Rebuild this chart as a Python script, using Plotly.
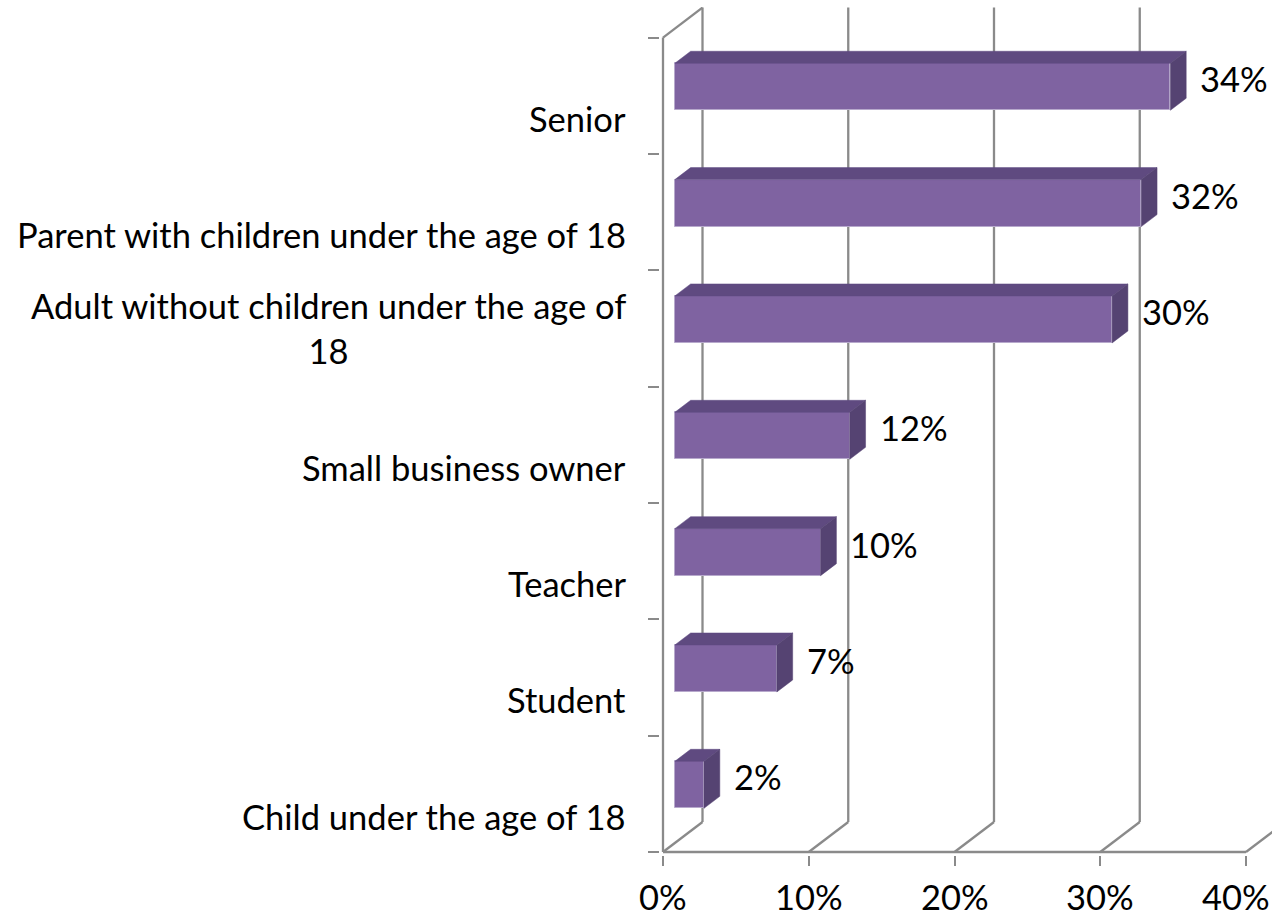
import plotly.graph_objects as go

# Respondent groups, bottom to top, and the share of each (percent)
categories = [
    "Child under the age of 18",
    "Student",
    "Teacher",
    "Small business owner",
    "Adult without children under the age of<br>18",
    "Parent with children under the age of 18",
    "Senior",
]
shares = [2, 7, 10, 12, 30, 32, 34]
x_ticks = [0, 10, 20, 30, 40]
x_tick_labels = ["0%", "10%", "20%", "30%", "40%"]

# Pseudo-3D geometry in data units
DEPTH_X = 2.71        # horizontal shift of the back wall (percent)
DEPTH_Y = 0.258       # vertical shift of the back wall (category units)
BAR_FRONT = 0.30      # depth fraction where the bar front face sits
BAR_DEPTH = 0.40      # depth fraction taken by the bar
BAR_WIDTH = 0.404

FRONT = "#7f63a1"
TOP = "#5f4a80"
SIDE = "#554372"
GRID = "#8a8a8a"
FONT = "Lato"
FS = 34.5

n = len(categories)
idx = list(range(n))
b0 = BAR_FRONT * DEPTH_X
y0 = BAR_FRONT * DEPTH_Y
bdx = BAR_DEPTH * DEPTH_X
bdy = BAR_DEPTH * DEPTH_Y

fig = go.Figure()

# front faces
fig.add_trace(go.Bar(
    orientation="h",
    y=[i + y0 for i in idx],
    x=shares,
    base=[b0] * n,
    width=BAR_WIDTH,
    marker=dict(color=FRONT, line=dict(color="#b7a9cc", width=1)),
    hoverinfo="skip",
    showlegend=False,
))

# top and side faces
top_x, top_y, side_x, side_y = [], [], [], []
for i, v in zip(idx, shares):
    yt = i + y0 + BAR_WIDTH / 2
    yb = i + y0 - BAR_WIDTH / 2
    top_x += [b0, b0 + v, b0 + v + bdx, b0 + bdx, b0, None]
    top_y += [yt, yt, yt + bdy, yt + bdy, yt, None]
    side_x += [b0 + v, b0 + v + bdx, b0 + v + bdx, b0 + v, b0 + v, None]
    side_y += [yb, yb + bdy, yt + bdy, yt, yb, None]

fig.add_trace(go.Scatter(x=top_x, y=top_y, mode="lines", fill="toself",
                         fillcolor=TOP, line=dict(color=TOP, width=0.5),
                         hoverinfo="skip", showlegend=False))
fig.add_trace(go.Scatter(x=side_x, y=side_y, mode="lines", fill="toself",
                         fillcolor=SIDE, line=dict(color=SIDE, width=0.5),
                         hoverinfo="skip", showlegend=False))

# walls, floor and gridlines
lo, hi = -0.5, n - 0.5
line = dict(color=GRID, width=2.3)
shapes = []
for t in x_ticks:
    shapes.append(dict(type="line", xref="x", yref="y", layer="below",
                       x0=t + DEPTH_X, x1=t + DEPTH_X,
                       y0=lo + DEPTH_Y, y1=hi + DEPTH_Y, line=line))
    shapes.append(dict(type="line", xref="x", yref="y", layer="below",
                       x0=t, x1=t + DEPTH_X, y0=lo, y1=lo + DEPTH_Y, line=line))
shapes.append(dict(type="line", xref="x", yref="y", layer="below",
                   x0=0, x1=0, y0=lo, y1=hi, line=line))
shapes.append(dict(type="line", xref="x", yref="y", layer="below",
                   x0=0, x1=DEPTH_X, y0=hi, y1=hi + DEPTH_Y, line=line))
shapes.append(dict(type="line", xref="x", yref="y", layer="below",
                   x0=0, x1=x_ticks[-1], y0=lo, y1=lo, line=line))

annotations = []
# category labels
for i, name in zip(idx, categories):
    annotations.append(dict(
        x=0, y=i, xref="x", yref="y", text=name, showarrow=False,
        xanchor="right", yanchor="bottom", align="center",
        xshift=-35, yshift=-45,
        font=dict(family=FONT, size=FS, color="#000000"),
    ))
# value labels
for i, v in zip(idx, shares):
    annotations.append(dict(
        x=b0 + v + bdx, y=i + y0 + bdy / 2, xref="x", yref="y",
        text=f"{v}%", showarrow=False, xanchor="left", yanchor="middle",
        xshift=12, yshift=2,
        font=dict(family=FONT, size=FS, color="#000000"),
    ))
# percentage scale labels under the floor; the last one is held inside
# the right edge of the figure
for k, (t, lab) in enumerate(zip(x_ticks, x_tick_labels)):
    last = k == len(x_ticks) - 1
    annotations.append(dict(
        x=1 if last else t, xref="paper" if last else "x",
        y=0, yref="paper", text=lab, showarrow=False,
        xanchor="right" if last else "center", yanchor="middle",
        yshift=-41,
        font=dict(family=FONT, size=FS, color="#000000"),
    ))

PX_PER_PCT = 14.575
PX_PER_CAT = 116.29
x_lo = -3 / PX_PER_PCT
y_lo = lo - 3 / PX_PER_CAT

fig.update_layout(
    width=1272, height=916,
    margin=dict(l=660, r=0, t=7, b=61),
    paper_bgcolor="white", plot_bgcolor="white",
    showlegend=False,
    shapes=shapes,
    annotations=annotations,
    bargap=0,
    xaxis=dict(
        range=[x_lo, x_lo + (1272 - 660) / PX_PER_PCT],
        tickvals=x_ticks, showticklabels=False,
        ticks="outside", ticklen=10, tickwidth=2, tickcolor=GRID,
        showgrid=False, zeroline=False, showline=False,
        fixedrange=True,
    ),
    yaxis=dict(
        range=[y_lo, hi + DEPTH_Y + 0.005],
        tickvals=[k - 0.5 for k in range(n + 1)],
        showticklabels=False,
        ticks="outside", ticklen=11, tickwidth=2, tickcolor=GRID,
        showgrid=False, zeroline=False, showline=False,
        fixedrange=True,
    ),
)

fig.write_html("out.html")
